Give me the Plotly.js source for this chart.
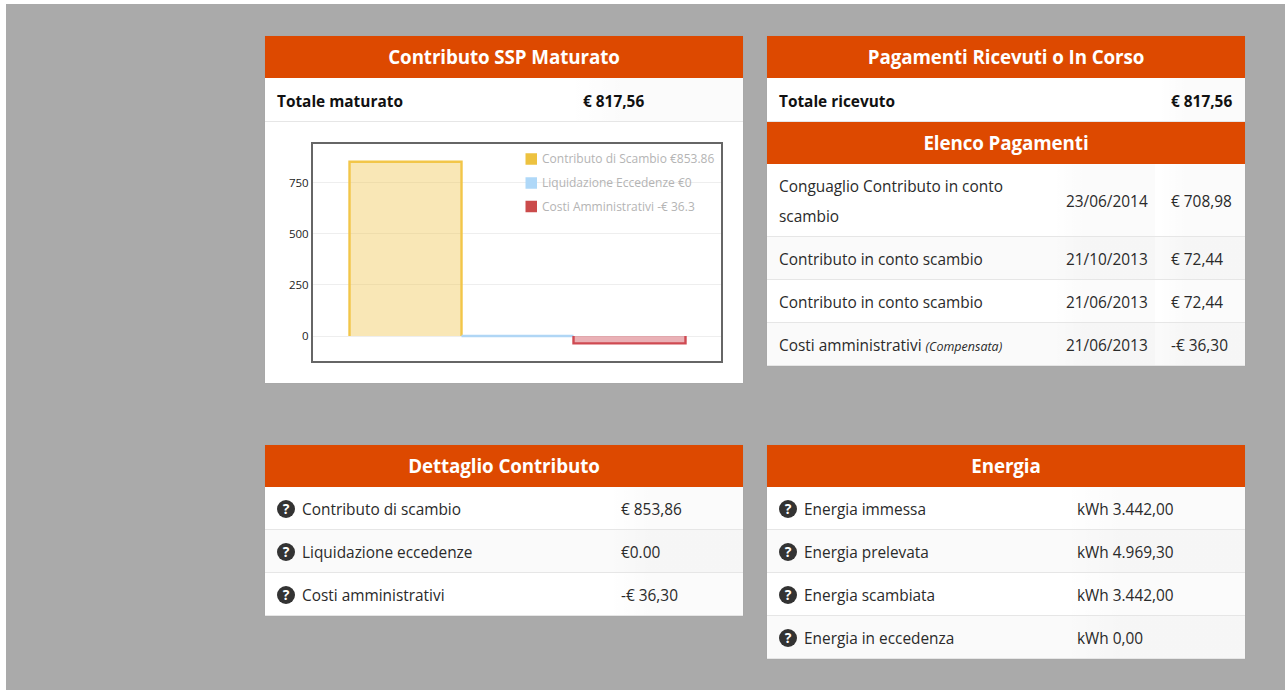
<!DOCTYPE html>
<html lang="it">
<head>
<meta charset="utf-8">
<title>Contributo SSP</title>
<script src="https://cdn.plot.ly/plotly-3.0.1.min.js"></script>
<style>
html,body{margin:0;padding:0;background:#fff;overflow:hidden}
body{width:1285px;height:690px;position:relative;font-family:"Open Sans",sans-serif;color:#222}
#bg{position:absolute;left:6px;top:4px;width:1279px;height:686px;background:#aaaaaa}
.panel{position:absolute;width:478px;background:#fff;box-shadow:0 0 1px rgba(0,0,0,.08)}
.head{position:absolute;left:0;width:100%;height:42px;line-height:43px;background:#dd4900;color:#fff;text-align:center;font-size:18.8px;font-weight:700;letter-spacing:-.1px}
.row{position:absolute;left:0;width:100%;border-bottom:1px solid #e6e6e6;box-sizing:border-box;font-size:15.4px;color:#2a2a2a}
.row.alt{background:#fafafa}
.cell{position:absolute;top:0;bottom:0;display:flex;align-items:center;line-height:30px;padding-top:4px;box-sizing:border-box}
.shade{background:linear-gradient(90deg,rgba(0,0,0,0),rgba(0,0,0,.015) 30%,rgba(0,0,0,.015))}
.bold{font-weight:700;color:#111}
.q{display:inline-block;width:18px;height:18px;border-radius:50%;background:#333;color:#fff;font:700 14px/18px "Open Sans",sans-serif;text-align:center;position:absolute;left:12px;top:12.5px}
em{font-size:12.5px}
#chart{position:absolute;left:0;top:86px;width:478px;height:261px}
</style>
</head>
<body>
<div id="bg"></div>
<div id="root"></div>
<script>
// Chart data
const seriesNames = ["Contributo di Scambio", "Liquidazione Eccedenze", "Costi Amministrativi"];
const seriesLabels = ["€853.86", "€0", "-€ 36.3"];
const seriesValues = [853.86, 0, -36.3];
const seriesSlots = [0, 1, 2];
const lineColors = ["#f2c649", "#b0d6f5", "#cf4a52"];
const fillColors = ["rgba(240,198,80,0.42)", "rgba(176,214,245,0.42)", "rgba(205,70,80,0.42)"];
const swatchColors = ["#edc240", "#afd8f8", "#cb4b4b"];
const yTicks = [0, 250, 500, 750];

// Table text
const totalMaturato = ["Totale maturato", "€ 817,56"];
const totalRicevuto = ["Totale ricevuto", "€ 817,56"];
const pagamenti = [
  ["Conguaglio Contributo in conto scambio", "23/06/2014", "€ 708,98"],
  ["Contributo in conto scambio", "21/10/2013", "€ 72,44"],
  ["Contributo in conto scambio", "21/06/2013", "€ 72,44"],
  ["Costi amministrativi <em>(Compensata)</em>", "21/06/2013", "-€ 36,30"]
];
const dettaglio = [
  ["Contributo di scambio", "€ 853,86"],
  ["Liquidazione eccedenze", "€0.00"],
  ["Costi amministrativi", "-€ 36,30"]
];
const energia = [
  ["Energia immessa", "kWh 3.442,00"],
  ["Energia prelevata", "kWh 4.969,30"],
  ["Energia scambiata", "kWh 3.442,00"],
  ["Energia in eccedenza", "kWh 0,00"]
];

const root = document.getElementById("root");
function el(parent, cls, css, html) {
  const d = document.createElement("div");
  d.className = cls;
  d.style.cssText = css;
  if (html !== undefined) d.innerHTML = html;
  parent.appendChild(d);
  return d;
}
function panel(x, y, h) { return el(root, "panel", `left:${x}px;top:${y}px;height:${h}px`); }
function head(p, y, text) { el(p, "head", `top:${y}px`, text); }
function row(p, y, h, alt, cells) {
  const r = el(p, "row" + (alt ? " alt" : ""), `top:${y}px;height:${h}px`);
  cells.forEach(c => {
    el(r, "cell" + (c.cls ? " " + c.cls : ""), `left:${c.x}px;right:${c.r || 0}px;padding-left:${c.pad || 0}px`, `<span>${c.t}</span>`);
  });
  return r;
}

// Contributo SSP Maturato
const p1 = panel(265, 36, 347);
head(p1, 0, "Contributo SSP Maturato");
row(p1, 42, 44, false, [
  {x: 12, r: 180, t: totalMaturato[0], cls: "bold"},
  {x: 305, pad: 13, t: totalMaturato[1], cls: "bold shade"}
]);
const chartDiv = el(p1, "", "");
chartDiv.id = "chart";

// Pagamenti
const p2 = panel(767, 36, 330);
head(p2, 0, "Pagamenti Ricevuti o In Corso");
row(p2, 42, 44, false, [
  {x: 12, r: 100, t: totalRicevuto[0], cls: "bold"},
  {x: 392, pad: 12, t: totalRicevuto[1], cls: "bold shade"}
]);
head(p2, 86, "Elenco Pagamenti");
const payY = [128, 201, 244, 287], payH = [73, 43, 43, 43];
pagamenti.forEach((r, i) => row(p2, payY[i], payH[i], i % 2 === 1, [
  {x: 12, r: 200, t: r[0]},
  {x: 286, r: 90, pad: 13, t: r[1], cls: "shade"},
  {x: 392, pad: 12, t: r[2], cls: "shade"}
]));

// Dettaglio
function detail(x, y, h, title, rows, vx) {
  const p = panel(x, y, h);
  head(p, 0, title);
  rows.forEach((r, i) => {
    const rr = row(p, 42 + i * 43, 43, i % 2 === 1, [
      {x: 37, r: 150, t: r[0]},
      {x: vx - 12, pad: 12, t: r[1], cls: "shade"}
    ]);
    el(rr, "q", "", "?");
  });
}
detail(265, 445, 171, "Dettaglio Contributo", dettaglio, 356);
detail(767, 445, 214, "Energia", energia, 310);

// Plot geometry helpers for the legend (paper coordinates)
const plotW = 408, plotH = 217;
const legendX = 212.5, legendY = [15, 39, 62.5], swatch = 11.5;

const bars = seriesNames.map((n, i) => ({
  type: "bar", x: [seriesSlots[i]], y: [seriesValues[i]], width: 1, name: n,
  marker: {color: fillColors[i], line: {width: 0}}, showlegend: false, hoverinfo: "name+y"
}));
const outlines = seriesNames.map((n, i) => {
  const s = seriesSlots[i], v = seriesValues[i];
  return {
    type: "scatter", mode: "lines", x: [s - .5, s - .5, s + .5, s + .5], y: [0, v, v, 0],
    line: {color: lineColors[i], width: 2.4}, showlegend: false, hoverinfo: "skip"
  };
});

const shapes = seriesNames.map((n, i) => ({
  type: "rect", xref: "paper", yref: "paper", layer: "above", line: {width: 0}, fillcolor: swatchColors[i],
  x0: legendX / plotW, x1: (legendX + swatch) / plotW,
  y0: 1 - (legendY[i] + swatch / 2) / plotH, y1: 1 - (legendY[i] - swatch / 2) / plotH
}));
const annotations = seriesNames.map((n, i) => ({
  xref: "paper", yref: "paper", xanchor: "left", yanchor: "middle", showarrow: false,
  x: (legendX + swatch + 2.5) / plotW, y: 1 - (legendY[i] - 0.5) / plotH,
  text: n + " " + seriesLabels[i], font: {family: "Open Sans", size: 12, color: "#b4b4b4"}
}));

Plotly.newPlot(chartDiv, bars.concat(outlines), {
  width: 478, height: 261,
  margin: {l: 48, r: 22, t: 22, b: 22, pad: 0},
  paper_bgcolor: "rgba(0,0,0,0)", plot_bgcolor: "#fff",
  barmode: "overlay", showlegend: false,
  xaxis: {range: [-0.826, 2.817], showticklabels: false, ticks: "", showgrid: false, zeroline: false,
          showline: true, mirror: true, linecolor: "#666", linewidth: 2},
  yaxis: {range: [-122.5, 941], tickvals: yTicks, ticktext: yTicks.map(String), ticks: "",
          tickfont: {family: "Open Sans", size: 11.5, color: "#222"},
          gridcolor: "#eeeeee", gridwidth: 1, zeroline: false,
          showline: true, mirror: true, linecolor: "#666", linewidth: 2},
  shapes: shapes, annotations: annotations
}, {displayModeBar: false, staticPlot: true});
</script>
</body>
</html>
